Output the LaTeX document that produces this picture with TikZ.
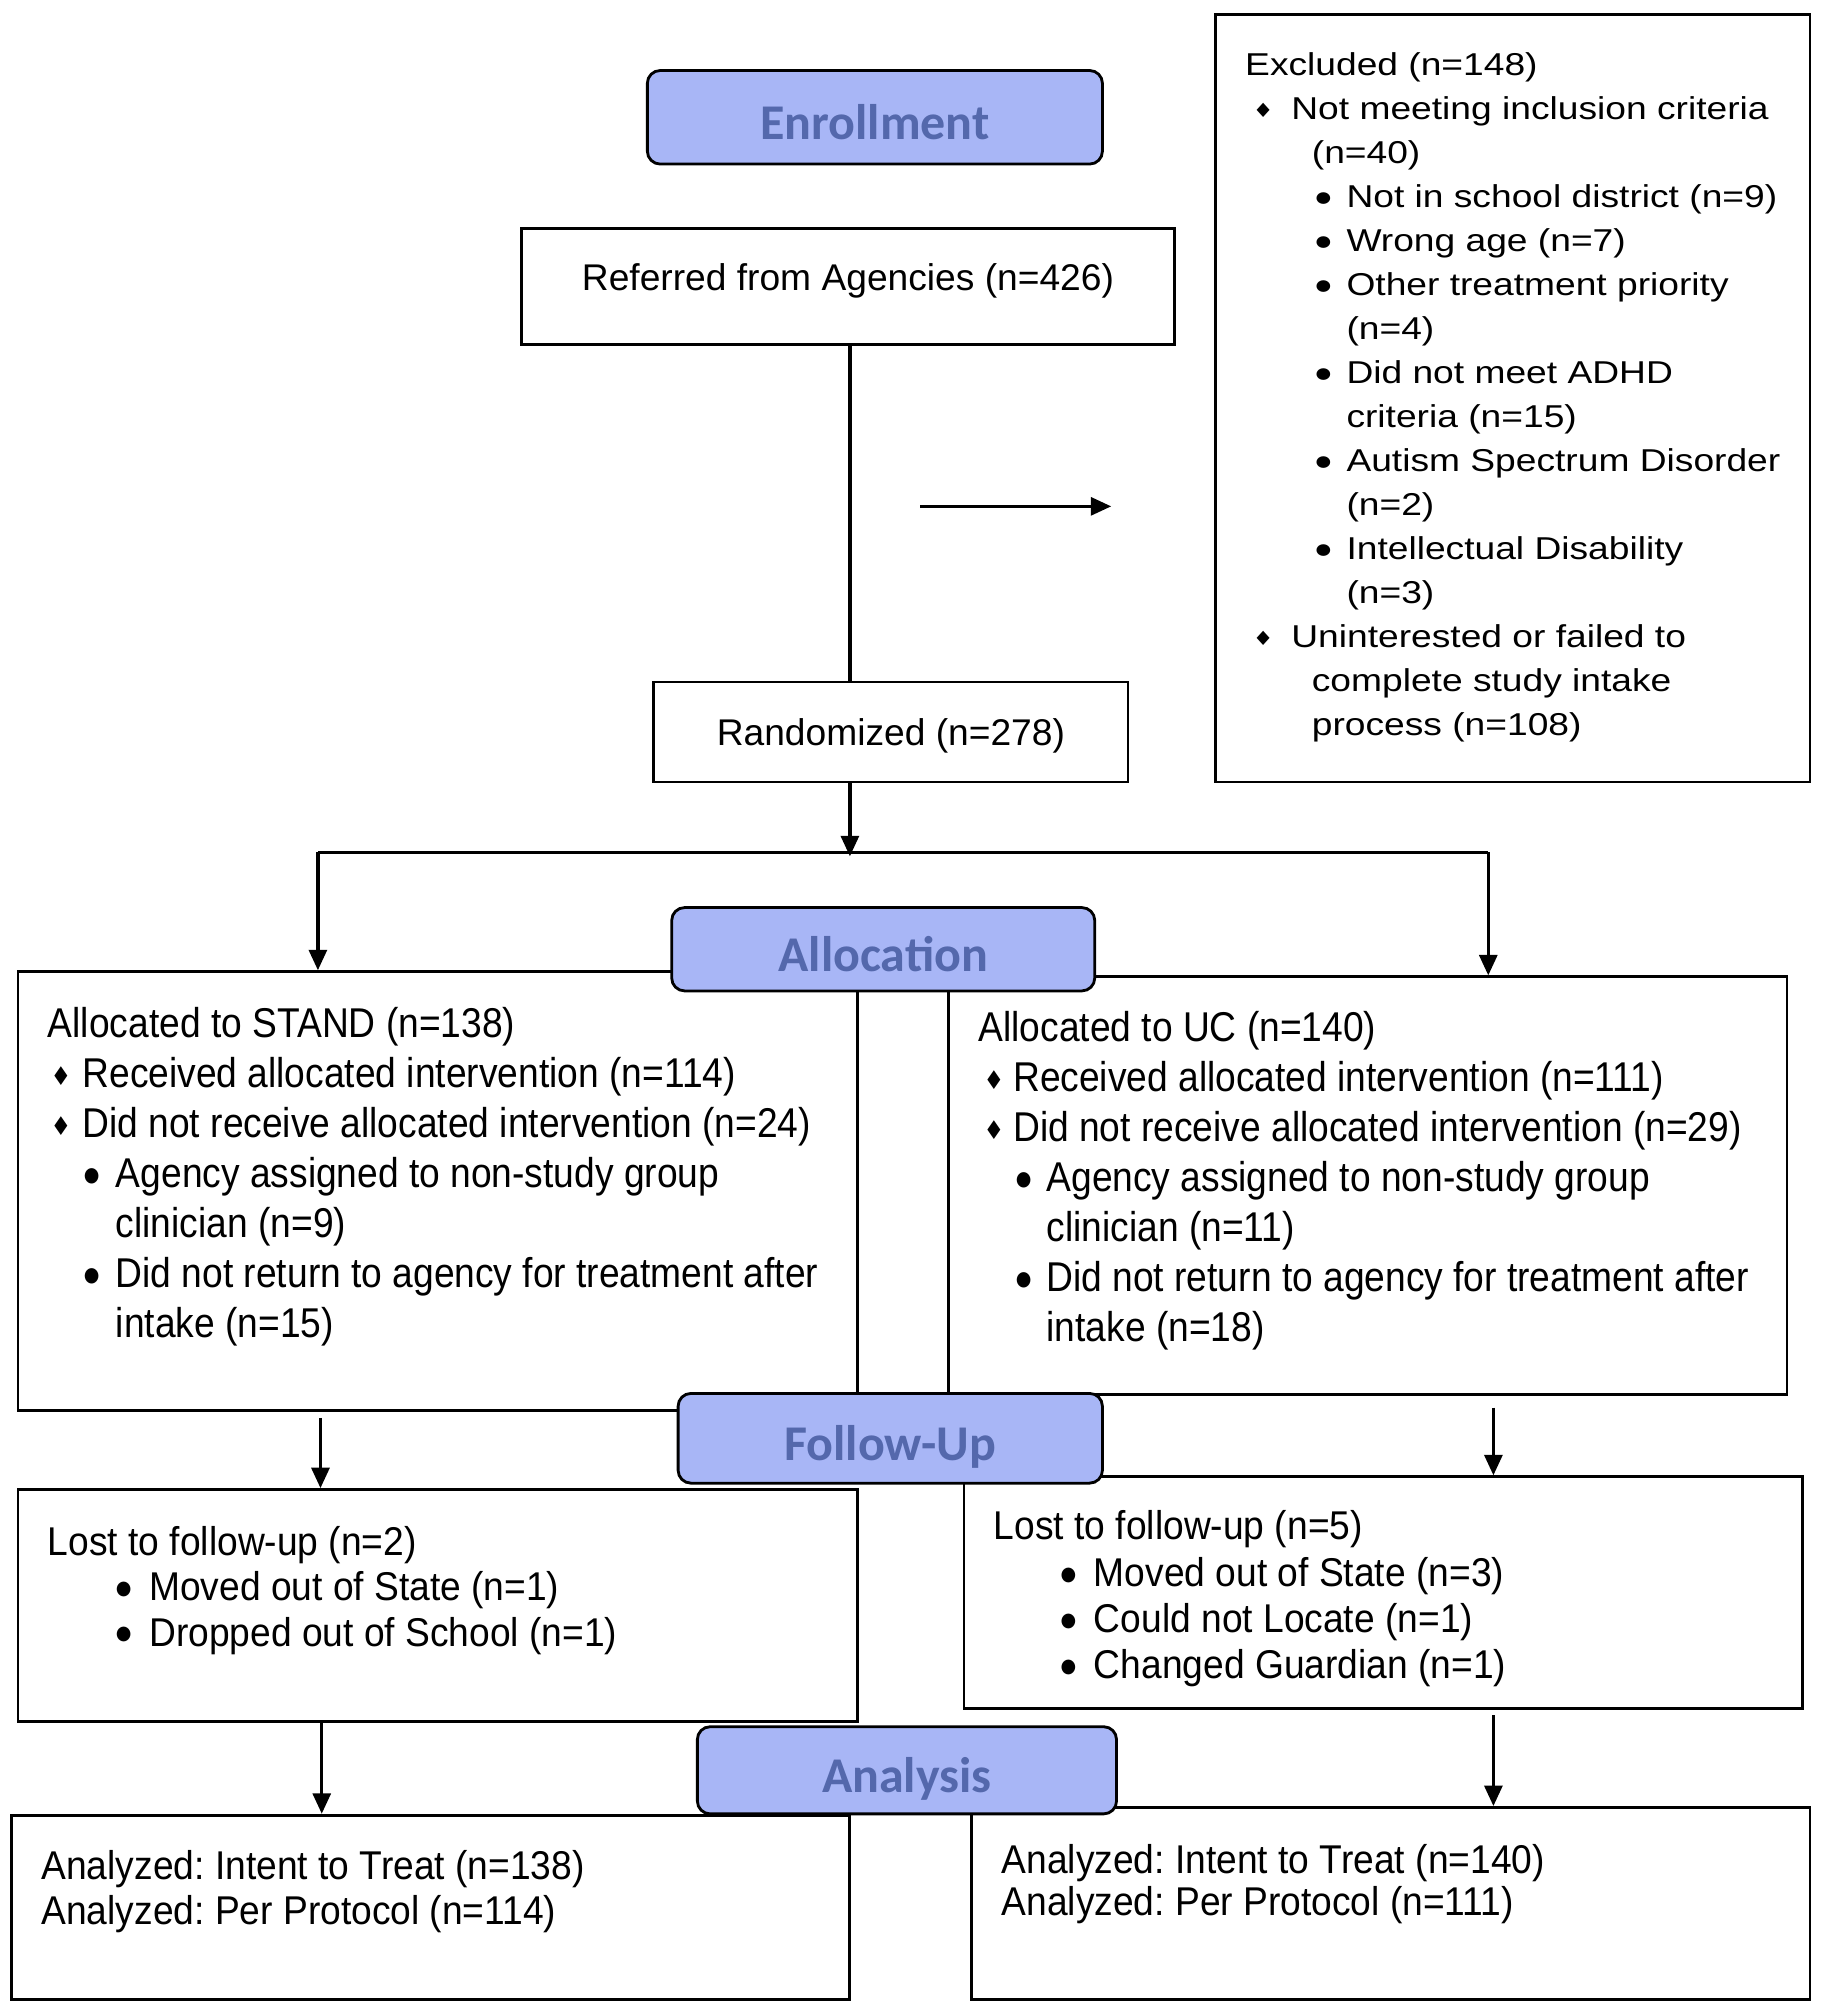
\documentclass[tikz,border=0pt]{standalone}
\usepackage{fontspec}
\setmainfont{Liberation Sans}
\newfontfamily\hdrfont{Carlito}
\newfontfamily\symfont{DejaVu Sans}
\usetikzlibrary{arrows.meta}
\definecolor{hdrfill}{RGB}{168,182,246}
\definecolor{hdrtext}{RGB}{84,104,172}
\frenchspacing
% diamond bullet: #1 = space before glyph, #2 = total width
\newcommand\dmd[2]{\makebox[#2][l]{\hspace*{#1}\raisebox{0.8pt}{\symfont\fontsize{9}{9}\selectfont ♦}}}
% round bullet: #1 = indent, #2 = width of bullet slot
\newcommand\bul[2]{\hspace*{#1}\makebox[#2][l]{\raisebox{2.2pt}{\symfont\fontsize{7}{7}\selectfont ●}}}
\newcommand\ind[1]{\hspace*{#1}}
\begin{document}
\begin{tikzpicture}[x=0.5pt,y=-0.5pt,
  box/.style={draw, line width=1.1pt, rectangle, inner sep=0pt, fill=white},
  hdr/.style={draw, line width=1.1pt, rounded corners=5pt, fill=hdrfill, inner sep=0pt,
    text=hdrtext, font=\hdrfont\bfseries\fontsize{19.5}{20}\selectfont,
    text height=17pt, text depth=0pt},
  txt/.style={inner sep=0pt, align=left, anchor=north west},
  ln/.style={line width=1.3pt},
  arr/.style={line width=1.3pt, -{Triangle[length=8pt,width=7pt]}}]

\fill[white] (0,0) rectangle (1423,1568);
\useasboundingbox (0,0) rectangle (1423,1568);

% ---------- Enrollment ----------
\node[hdr, minimum width=177.5pt, minimum height=36.5pt] (enroll) at (682.5,91.5) {Enrollment};
\node[box, minimum width=254.5pt, minimum height=45.5pt,
  font=\fontsize{14.5}{17}\selectfont, text height=10pt, text depth=7.1pt] (ref) at (661.5,223.5) {Referred from Agencies (n=426)};
\node[box, minimum width=232pt, minimum height=299.5pt] (excl) at (1180,310.5) {};
\node[txt, yscale=0.85, font=\fontsize{14.5}{20.2}\selectfont] (exclt) at (971,40.6) {%
Excluded (n=148)\\
\dmd{3pt}{18pt}Not meeting inclusion criteria\\
\ind{26pt}(n=40)\\
\bul{27.5pt}{12pt}Not in school district (n=9)\\
\bul{27.5pt}{12pt}Wrong age (n=7)\\
\bul{27.5pt}{12pt}Other treatment priority\\
\ind{39.5pt}(n=4)\\
\bul{27.5pt}{12pt}Did not meet ADHD\\
\ind{39.5pt}criteria (n=15)\\
\bul{27.5pt}{12pt}Autism Spectrum Disorder\\
\ind{39.5pt}(n=2)\\
\bul{27.5pt}{12pt}Intellectual Disability\\
\ind{39.5pt}(n=3)\\
\dmd{3pt}{18pt}Uninterested or failed to\\
\ind{26pt}complete study intake\\
\ind{26pt}process (n=108)};
\node[box, minimum width=185pt, minimum height=39pt,
  font=\fontsize{14.5}{17}\selectfont, text height=11pt, text depth=0.6pt] (rand) at (695,571) {Randomized (n=278)};

\coordinate (cx) at (663,0);
\coordinate (ea) at (718,395);
\coordinate (split) at (663,665);
\coordinate (bl) at (248,665);
\coordinate (br) at (1161,665);
\coordinate (x2l) at (250,0);
\coordinate (x2r) at (1165,0);
\coordinate (x3l) at (251,0);
\coordinate (x3r) at (1165,0);

\draw[ln] (ref.south -| cx) -- (rand.north -| cx);
\draw[arr, shorten >=40pt] (ea) -- (excl.west |- ea);
\draw[arr] (rand.south -| cx) -- ([yshift=-1.5pt]split);
\draw[ln] (bl) -- (br);

% ---------- Allocation ----------
\node[box, minimum width=327.5pt, minimum height=171pt] (aL) at (341.5,929) {};
\node[box, minimum width=327pt, minimum height=163pt] (aR) at (1067,925) {};
\draw[arr] (bl) -- (aL.north -| bl);
\draw[arr] (br) -- (aR.north -| br);
\node[txt, yscale=1.12, font=\fontsize{14.5}{17.4}\selectfont] (aLt) at (37,785.7) {%
Allocated to STAND (n=138)\\
\dmd{1pt}{13.5pt}Received allocated intervention (n=114)\\
\dmd{1pt}{13.5pt}Did not receive allocated intervention (n=24)\\
\bul{14pt}{12.5pt}Agency assigned to non-study group\\
\ind{26.5pt}clinician (n=9)\\
\bul{14pt}{12.5pt}Did not return to agency for treatment after\\
\ind{26.5pt}intake (n=15)};
\node[txt, yscale=1.12, font=\fontsize{14.5}{17.4}\selectfont] (aRt) at (763,788.7) {%
Allocated to UC (n=140)\\
\dmd{2pt}{13.5pt}Received allocated intervention (n=111)\\
\dmd{2pt}{13.5pt}Did not receive allocated intervention (n=29)\\
\bul{14.5pt}{12pt}Agency assigned to non-study group\\
\ind{26.5pt}clinician (n=11)\\
\bul{14.5pt}{12pt}Did not return to agency for treatment after\\
\ind{26.5pt}intake (n=18)};

% ---------- Follow-up ----------
\node[box, minimum width=327.5pt, minimum height=90.5pt] (lL) at (341.5,1252.5) {};
\node[box, minimum width=327pt, minimum height=90.5pt] (lR) at (1079,1242.5) {};
\draw[arr, shorten <=2.5pt] (aL.south -| x2l) -- (lL.north -| x2l);
\draw[arr, shorten <=4.5pt] (aR.south -| x2r) -- (lR.north -| x2r);
\node[txt, yscale=1.08, font=\fontsize{14.5}{16.4}\selectfont] (lLt) at (37,1190.1) {%
Lost to follow-up (n=2)\\
\bul{26.5pt}{13pt}Moved out of State (n=1)\\
\bul{26.5pt}{13pt}Dropped out of School (n=1)};
\node[txt, yscale=1.08, font=\fontsize{14.5}{16.7}\selectfont] (lRt) at (775,1178.1) {%
Lost to follow-up (n=5)\\
\bul{26pt}{13pt}Moved out of State (n=3)\\
\bul{26pt}{13pt}Could not Locate (n=1)\\
\bul{26pt}{13pt}Changed Guardian (n=1)};

% ---------- Analysis ----------
\node[box, minimum width=327pt, minimum height=72pt] (nL) at (336,1488) {};
\node[box, minimum width=327pt, minimum height=75pt] (nR) at (1085,1485) {};
\draw[arr] (lL.south -| x3l) -- (nL.north -| x3l);
\draw[arr, shorten <=2pt] (lR.south -| x3r) -- (nR.north -| x3r);
\node[txt, yscale=1.08, font=\fontsize{14.5}{16.2}\selectfont] (nLt) at (32,1443.1) {%
Analyzed: Intent to Treat (n=138)\\
Analyzed: Per Protocol (n=114)};
\node[txt, yscale=1.08, font=\fontsize{14.5}{15.3}\selectfont] (nRt) at (781,1438.1) {%
Analyzed: Intent to Treat (n=140)\\
Analyzed: Per Protocol (n=111)};

% ---------- Stage headers (drawn on top) ----------
\node[hdr, minimum width=165pt, minimum height=32.5pt] (alloc) at (689,740.5) {Allocation};
\node[hdr, minimum width=165.5pt, minimum height=35pt] (fu) at (694.5,1122) {Follow-Up};
\node[hdr, minimum width=163.5pt, minimum height=34pt] (an) at (707.5,1381) {Analysis};
\end{tikzpicture}
\end{document}
